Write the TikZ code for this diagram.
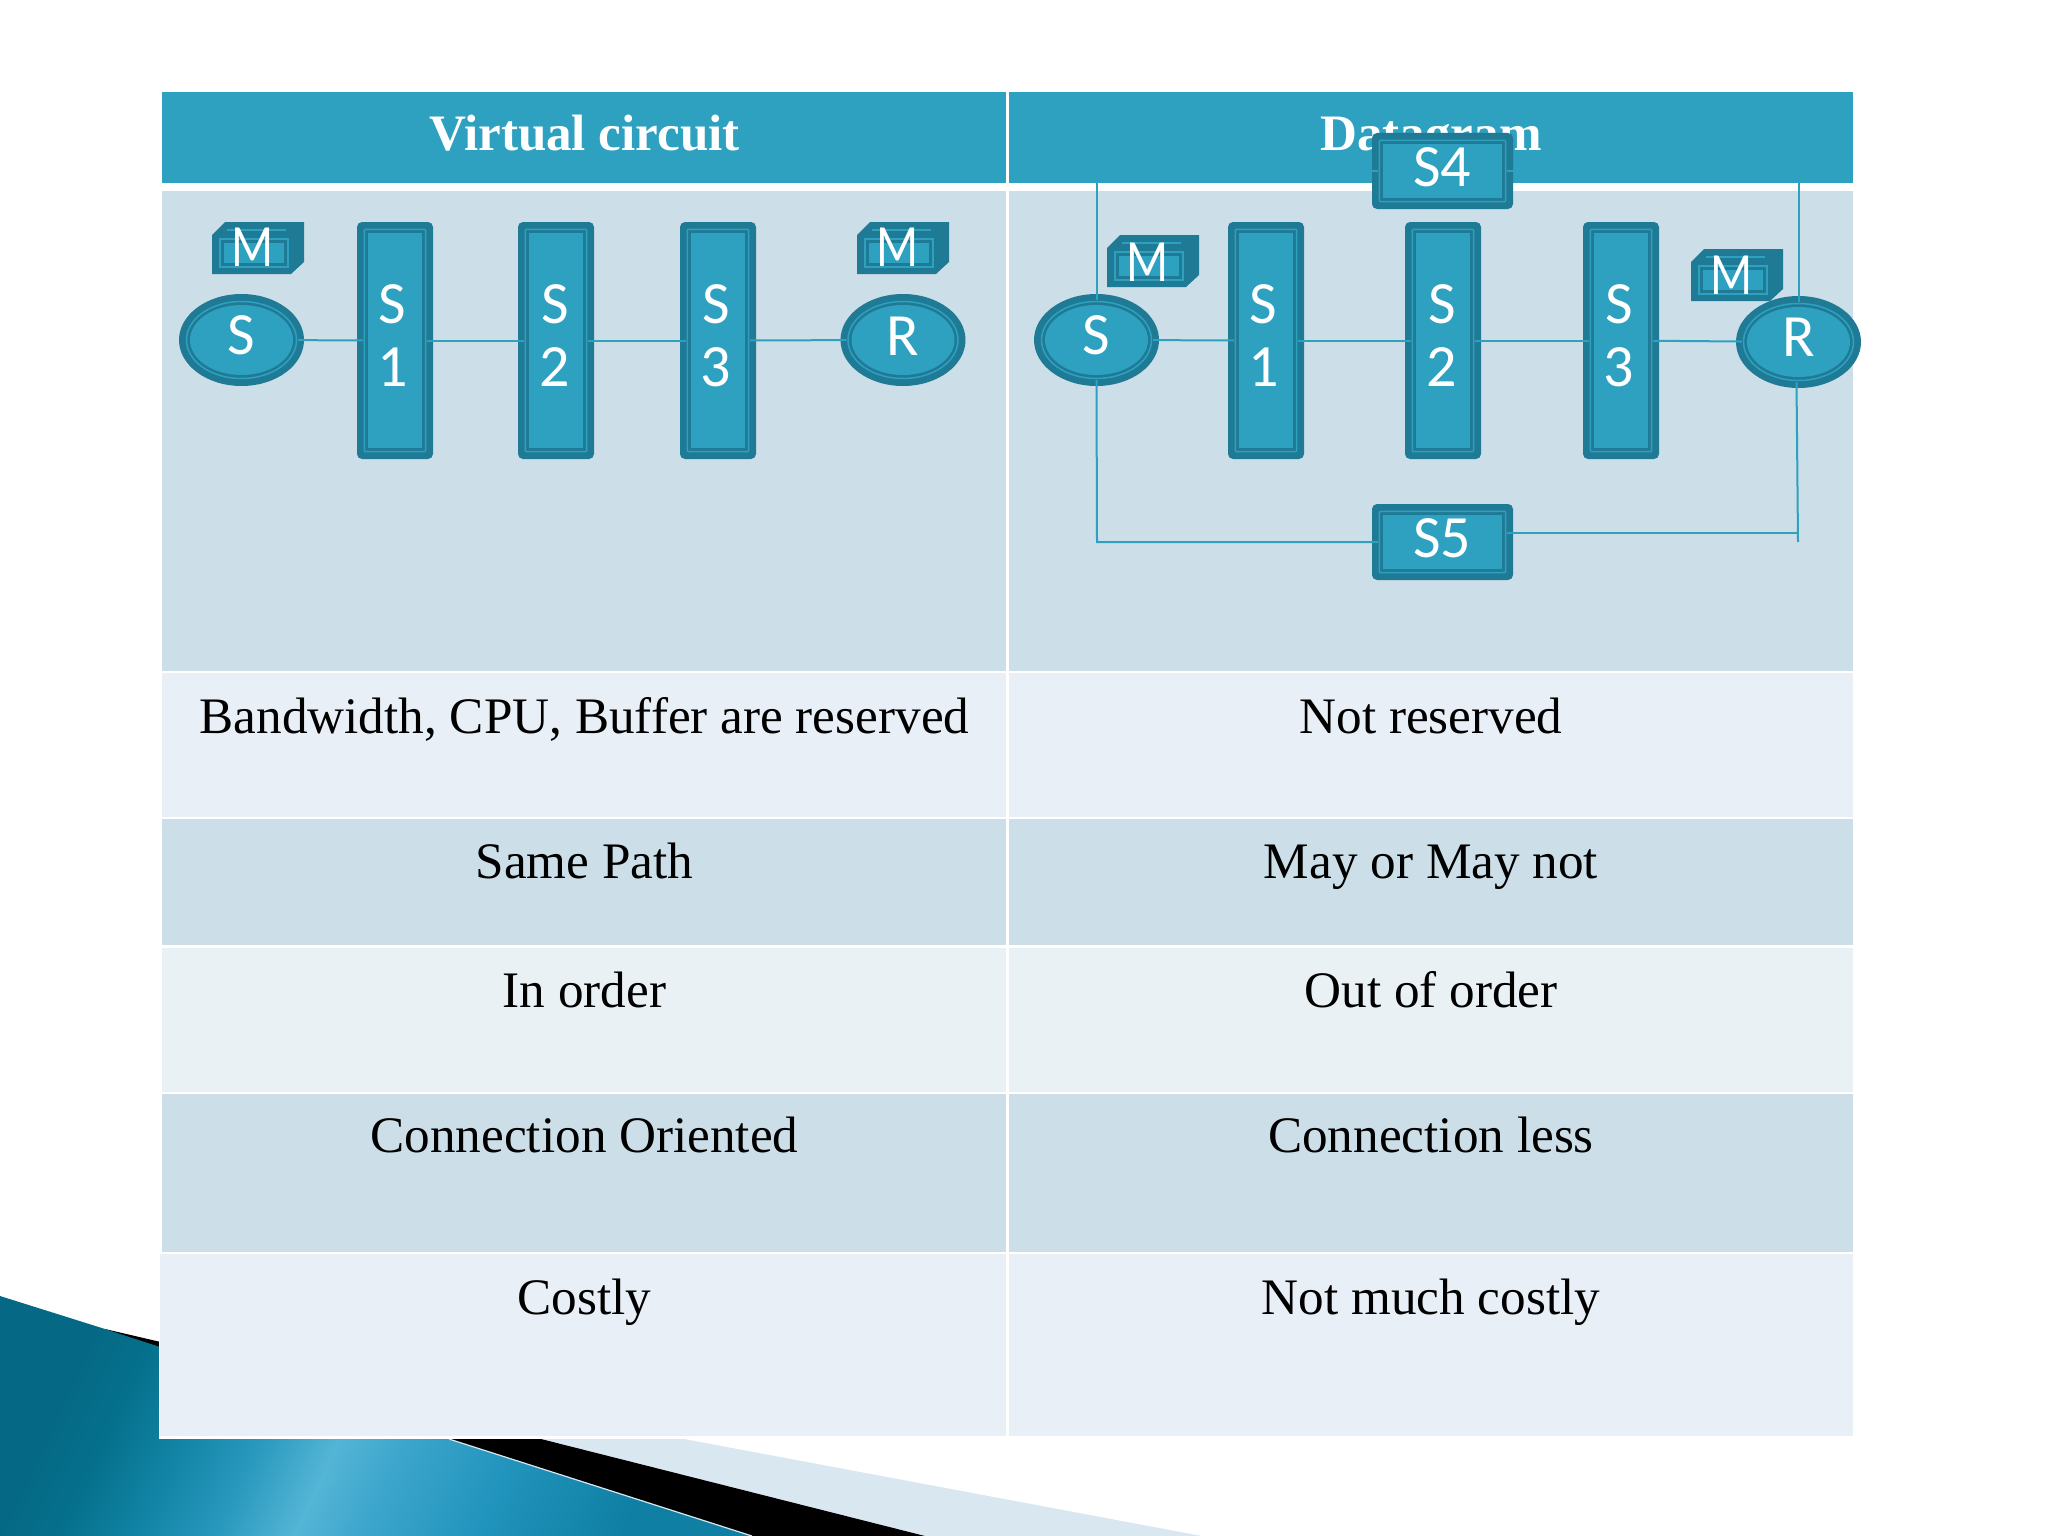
\documentclass[tikz,border=0pt]{standalone}
\usepackage{fontspec}
\usepackage{graphicx}
\setmainfont{Liberation Serif}
\newfontfamily\lblfont{Carlito}
\usetikzlibrary{shapes.geometric,calc}
\definecolor{hdr}{HTML}{2EA0C0}
\definecolor{dk}{HTML}{1F7A96}
\definecolor{rowA}{HTML}{CCDEE7}
\definecolor{rowB}{HTML}{E9EFF6}
\definecolor{rowC}{HTML}{E9F1F4}
\definecolor{pale}{HTML}{D9E8F0}
\pgfdeclarehorizontalshading{tealband}{100bp}{rgb(0bp)=(0.02,0.41,0.52); rgb(25bp)=(0.02,0.41,0.52); rgb(30bp)=(0.02,0.44,0.55); rgb(36bp)=(0.07,0.52,0.65); rgb(42bp)=(0.16,0.60,0.74); rgb(48bp)=(0.33,0.71,0.84); rgb(53bp)=(0.24,0.65,0.80); rgb(62bp)=(0.13,0.58,0.74); rgb(73bp)=(0.06,0.50,0.64); rgb(100bp)=(0.06,0.50,0.64)}
\tikzset{
  celltext/.style={font=\fontsize{51.2}{51.2}\selectfont,anchor=base,text=black,inner sep=0pt},
  headtext/.style={font=\fontsize{51.1}{51.1}\selectfont\bfseries,anchor=base,text=white,inner sep=0pt},
  lbl/.style={font=\lblfont\fontsize{60}{63}\selectfont,text=white,inner sep=0pt,align=center},
  devbox/.style={draw=none,fill=dk,rounded corners=5pt,inner sep=0pt},
  devring/.style={draw=hdr,line width=1.5pt},
  devface/.style={draw=none,fill=hdr},
  link/.style={draw=hdr,line width=2pt,shorten <=-6pt,shorten >=-6pt},
  wire/.style={draw=hdr,line width=2pt}
}
% name, centre x, centre y, width, height
\newcommand{\devrect}[5]{%
  \node[devbox,minimum width=#4pt,minimum height=#5pt] (#1) at (#2,#3) {};
  \draw[devring,rounded corners=1pt] ($(#1.north west)+(7.5,7.5)$) rectangle ($(#1.south east)+(-7.5,-7.5)$);
  \fill[devface] ($(#1.north west)+(11,11)$) rectangle ($(#1.south east)+(-11,-11)$);
}
% name, centre x, centre y, rx, ry
\newcommand{\devoval}[5]{%
  \node[ellipse,draw=none,fill=dk,inner sep=0pt,minimum width=#4pt,minimum height=#5pt] (#1) at (#2,#3) {};
  \draw[hdr,line width=1.5pt] (#2,#3) ellipse [x radius=#4/2-7.5,y radius=#5/2-7.5];
  \fill[hdr] (#2,#3) ellipse [x radius=#4/2-11,y radius=#5/2-11];
}
% name, left x, top y, label x, label y
\newcommand{\membox}[5]{%
  \fill[dk] (#2+13,#3) -- (#2+92,#3) -- (#2+92,#3+40) -- (#2+79,#3+52) -- (#2,#3+52) -- (#2,#3+13) -- cycle;
  \fill[hdr] (#2+12,#3+21) rectangle (#2+72,#3+41);
  \draw[hdr,line width=1.2pt] (#2+8,#3+17) rectangle (#2+76,#3+45);
  \draw[hdr,line width=1.2pt] (#2+15,#3+8) -- (#2+74,#3+8);
  \node[lbl] (#1) at (#4,#5) {\scalebox{.82}[1]{M}};
}
\begin{document}
\begin{tikzpicture}[x=1pt,y=-1pt]
\useasboundingbox (0,0) rectangle (2048,1536);
\fill[white] (0,0) rectangle (2048,1536);
% background corner shapes
\fill[pale] (541,1439) -- (684,1439) -- (1202,1536) -- (925,1536) -- cycle;
\fill[black] (105,1329) -- (165,1343) -- (165,1360) -- (150,1360) -- cycle;
\fill[black] (449,1439) -- (541,1439) -- (925,1536) -- (752,1536) -- cycle;
\shade[shading=tealband,shading angle=-25] (0,1296) -- (105,1329) -- (160,1347) -- (160,1439) -- (449,1439) -- (752,1536) -- (0,1536) -- cycle;
\draw[pale,line width=1.2pt] (449,1439) -- (752,1536);
% table
\fill[white] (159,1252) rectangle (1007,1439);
\fill[hdr] (162,92) rectangle (1853,183);
\fill[rowA] (162,191) rectangle (1853,670.5);
\fill[rowB] (162,673) rectangle (1853,816.5);
\fill[rowA] (162,819) rectangle (1853,945);
\fill[rowC] (162,947.5) rectangle (1853,1091.5);
\fill[rowA] (162,1094) rectangle (1853,1251.5);
\fill[rowB] (160,1254) rectangle (1853,1436);
\fill[white] (1006,92) rectangle (1009,1437);
% table text
\node[headtext] (h1) at (584.5,150) {Virtual circuit};
\node[headtext] (h2) at (1431,150) {Datagram};
\node[celltext] (a1) at (584.5,733) {Bandwidth, CPU, Buffer are reserved};
\node[celltext] (b1) at (1431,733) {Not reserved};
\node[celltext] (a2) at (584.5,878) {Same Path};
\node[celltext] (b2) at (1431,878) {May or May not};
\node[celltext] (a3) at (584.5,1007) {In order};
\node[celltext] (b3) at (1431,1007) {Out of order};
\node[celltext] (a4) at (584.5,1152) {Connection Oriented};
\node[celltext] (b4) at (1431,1152) {Connection less};
\node[celltext] (a5) at (584.5,1314) {Costly};
\node[celltext] (b5) at (1431,1314) {Not much costly};
% left diagram
\membox{lm1}{212}{222}{253}{247}
\membox{lm2}{857}{222}{898}{247}
\devoval{ls}{241.5}{340}{125}{92}
\devoval{lr}{903}{340}{125}{92}
\devrect{ls1}{395}{340.5}{76}{237}
\devrect{ls2}{556}{340.5}{76}{237}
\devrect{ls3}{718}{340.5}{76}{237}
\node[lbl] at (241.5,335) {S};
\node[lbl] at (903,336) {R};
\node[lbl] at (392.5,336) {S\\1};
\node[lbl] at (555,336) {S\\2};
\node[lbl] at (716,336) {S\\3};
\draw[link] (ls) -- (ls1);
\draw[link] (ls1) -- (ls2);
\draw[link] (ls2) -- (ls3);
\draw[link] (ls3) -- (lr);
% right diagram
\membox{rm1}{1107}{235}{1148}{262}
\membox{rm2}{1691}{249}{1732}{275}
\devoval{rs}{1096.5}{340}{125}{92}
\devoval{rr}{1798.5}{342}{125}{92}
\devrect{rs1}{1266}{340.5}{76}{237}
\devrect{rs2}{1443}{340.5}{76}{237}
\devrect{rs3}{1621}{340.5}{76}{237}
\devrect{rs4}{1442.5}{171}{141}{76}
\devrect{rs5}{1442.5}{542}{141}{76}
\node[lbl] at (1096.5,335) {S};
\node[lbl] at (1798.5,337) {R};
\node[lbl] at (1263.5,336) {S\\1};
\node[lbl] at (1442,336) {S\\2};
\node[lbl] at (1619,336) {S\\3};
\node[lbl] at (1442,167) {S4};
\node[lbl] at (1442,538) {S5};
\draw[link] (rs) -- (rs1);
\draw[link] (rs1) -- (rs2);
\draw[link] (rs2) -- (rs3);
\draw[link] (rs3) -- (rr);
\coordinate (c1) at (1096.5,171);
\coordinate (c2) at (1798.5,171);
\coordinate (c3) at (1097,542);
\coordinate (c4) at (1798,533);
\coordinate (c5) at (1798,542);
\draw[wire] ($(rs.north)+(0,6)$) -- (c1) -- ($(rs4.west)+(6,0)$);
\draw[wire] ($(rs4.east)+(-6,0)$) -- (c2) -- ($(rr.north)+(0,6)$);
\draw[wire] ($(rs.south)+(0,-6)$) -- (c3) -- ($(rs5.west)+(6,0)$);
\draw[wire] ($(rs5.east)+(-6,-9)$) -- (c4);
\draw[wire] ($(rr.south)+(-2,-6)$) -- (c5);
\end{tikzpicture}
\end{document}
